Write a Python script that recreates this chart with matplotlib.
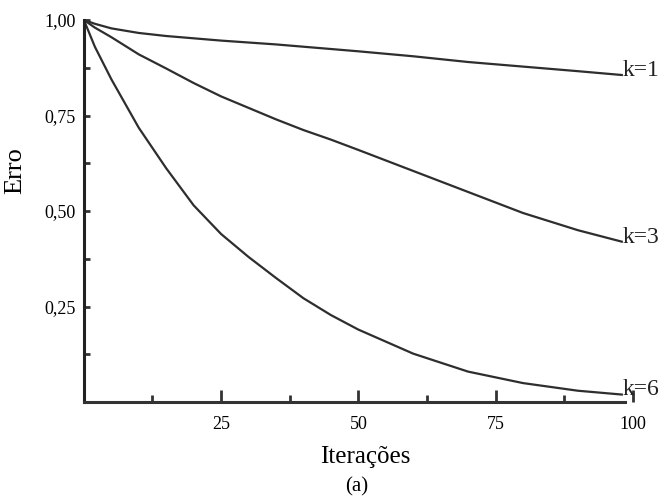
import matplotlib.pyplot as plt
import numpy as np

plt.rcParams['font.family'] = ['Liberation Serif', 'DejaVu Serif']

# values
iteracoes = [0, 2, 5, 10, 15, 20, 25, 30, 35, 40, 45, 50, 60, 70, 80, 90, 98]
erro_k1 = [1.0, 0.99, 0.978, 0.966, 0.958, 0.952, 0.946, 0.941, 0.936,
           0.93, 0.924, 0.918, 0.905, 0.89, 0.878, 0.866, 0.856]
erro_k3 = [1.0, 0.98, 0.955, 0.91, 0.873, 0.835, 0.80, 0.77, 0.74,
           0.712, 0.687, 0.66, 0.605, 0.55, 0.495, 0.45, 0.42]
erro_k6 = [1.0, 0.93, 0.845, 0.718, 0.612, 0.515, 0.44, 0.38, 0.325,
           0.272, 0.228, 0.19, 0.127, 0.08, 0.05, 0.03, 0.02]
curve_labels = ['k=1', 'k=3', 'k=6']

x_ticks = [25, 50, 75, 100]
y_ticks = [0.25, 0.50, 0.75, 1.00]
y_tick_labels = ['0,25', '0,50', '0,75', '1,00']

fig = plt.figure(figsize=(6.71, 4.99), dpi=100)
ax = fig.add_axes([0.125, 0.194, 0.818, 0.766])

line_color = '#2e2e2e'
for serie, lab in zip([erro_k1, erro_k3, erro_k6], curve_labels):
    ax.plot(iteracoes, serie, color=line_color, linewidth=1.6)
    ax.text(iteracoes[-1] + 0.2, serie[-1] + 0.012, lab, fontsize=17,
            va='center', ha='left', color='#222222')

ax.set_xlim(0, 100)
ax.set_ylim(0, 1.0)
ax.spines['top'].set_visible(False)
ax.spines['right'].set_visible(False)
ax.spines['left'].set_linewidth(2.2)
ax.spines['bottom'].set_linewidth(2.2)
ax.spines['left'].set_color('#222222')
ax.spines['bottom'].set_color('#333333')
ax.spines['bottom'].set_bounds(0, 98.5)

ax.set_xticks(x_ticks)
ax.set_xticklabels([str(t) for t in x_ticks])
ax.set_xticks([12.5, 37.5, 62.5, 87.5], minor=True)
ax.set_yticks(y_ticks)
ax.set_yticklabels(y_tick_labels)
ax.set_yticks([0.125, 0.375, 0.625, 0.875], minor=True)

ax.tick_params(axis='x', which='major', direction='in', length=9, width=2,
               labelsize=13, pad=10, color='#333333')
ax.tick_params(axis='x', which='minor', direction='in', length=5, width=2,
               color='#333333')
ax.tick_params(axis='y', which='major', direction='in', length=4, width=2,
               labelsize=13, pad=6, color='#333333')
ax.tick_params(axis='y', which='minor', direction='in', length=4, width=2,
               color='#333333')

ax.set_xlabel('Iterações', fontsize=18)
ax.xaxis.set_label_coords(0.512, -0.115)
ax.set_ylabel('Erro', fontsize=19)
ax.yaxis.set_label_coords(-0.105, 0.607)
ax.text(0.497, -0.222, '(a)', transform=ax.transAxes, fontsize=15,
        ha='center', va='center')

fig.savefig('out.png', dpi=100)
